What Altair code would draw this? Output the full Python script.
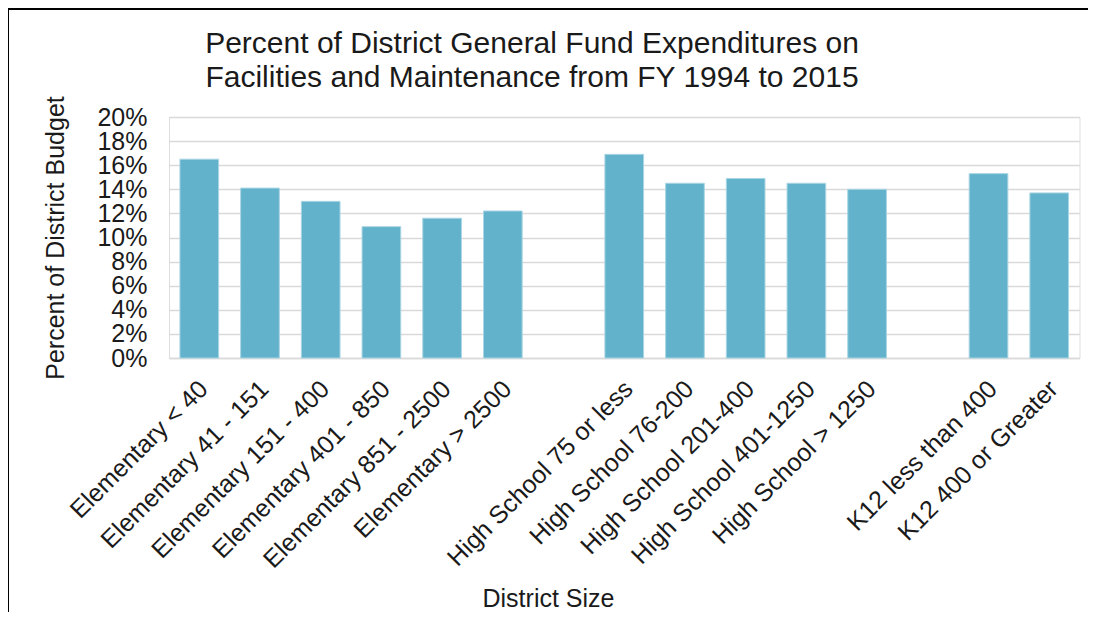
import altair as alt
import pandas as pd

# ---- data ----
elementary = ["Elementary < 40", "Elementary 41 - 151", "Elementary 151 - 400",
              "Elementary 401 - 850", "Elementary 851 - 2500", "Elementary > 2500"]
elementary_pct = [16.5, 14.1, 13.0, 10.9, 11.6, 12.2]

high_school = ["High School 75 or less", "High School 76-200", "High School 201-400",
               "High School 401-1250", "High School > 1250"]
high_school_pct = [16.9, 14.5, 14.9, 14.5, 14.0]

k12 = ["K12 less than 400", "K12 400 or Greater"]
k12_pct = [15.3, 13.7]

y_ticks = [0, 2, 4, 6, 8, 10, 12, 14, 16, 18, 20]

title_lines = ["Percent of District General Fund Expenditures on",
               "Facilities and Maintenance from FY 1994 to 2015"]

# ---- table ----
cats = elementary + high_school + k12
vals = elementary_pct + high_school_pct + k12_pct
df = pd.DataFrame({"category": cats, "pct": [v / 100 for v in vals]})

# domain with empty slots between the groups
domain = elementary + ["gap_1"] + high_school + ["gap_2"] + k12

FONT = "Liberation Sans"
TXT = "#1a1a1a"

bars = alt.Chart(df).mark_bar(
    color="#62B2CB", stroke="#A9D5E4", strokeWidth=1
).encode(
    x=alt.X("category:N", sort=domain,
            scale=alt.Scale(domain=domain, paddingInner=0.363, paddingOuter=0.18),
            axis=alt.Axis(
                title="District Size",
                labelExpr="indexof(datum.value, 'gap_') == 0 ? '' : datum.value",
                labelAngle=-45, labelAlign="right", labelBaseline="top",
                labelFontSize=25, labelFont=FONT, labelColor=TXT,
                labelPadding=18, labelOffset=-4, labelLimit=400,
                labelOverlap=False,
                ticks=False, domain=True, domainColor="#D9D9D9", domainWidth=1.5,
                grid=False,
                titleFont=FONT, titleFontSize=25, titleFontWeight="normal",
                titleColor=TXT, titleX=379, titleY=240,
                titleAlign="center", titleBaseline="middle", titleAngle=0)),
    y=alt.Y("pct:Q",
            scale=alt.Scale(domain=[0, 0.2], nice=False),
            axis=alt.Axis(
                title="Percent of District Budget",
                values=[t / 100 for t in y_ticks], format=".0%",
                labelFontSize=25, labelFont=FONT, labelColor=TXT,
                labelPadding=22, labelBaseline="middle", labelOverlap=False,
                ticks=False, domain=False,
                grid=True, gridColor="#D9D9D9", gridWidth=1.5,
                titleFont=FONT, titleFontSize=25, titleFontWeight="normal",
                titleColor=TXT, titleX=-114, titleY=120.5, titleAngle=-90,
                titleAlign="center", titleBaseline="middle")),
)

one_row = alt.Data(values=[{"k": 1}])

title = alt.Chart(one_row).mark_text(
    font=FONT, fontSize=30, color=TXT, align="center", baseline="alphabetic",
    lineHeight=34
).encode(x=alt.value(363), y=alt.value(-64), text=alt.value(title_lines))

frame_left = alt.Chart(one_row).mark_rule(color="#000000", strokeWidth=2).encode(
    x=alt.value(-161), y=alt.value(-110), y2=alt.value(510))
frame_top = alt.Chart(one_row).mark_rule(color="#000000", strokeWidth=2).encode(
    x=alt.value(-162), x2=alt.value(930), y=alt.value(-108))

chart = alt.layer(bars, title, frame_left, frame_top).properties(
    width=910.5, height=241,
    autosize=alt.AutoSizeParams(type="none"),
    padding={"left": 161, "top": 109, "right": 8, "bottom": 254},
).configure_view(stroke=None).configure(background="white")

chart.save("out.html", embed_options={"renderer": "svg", "actions": False})
